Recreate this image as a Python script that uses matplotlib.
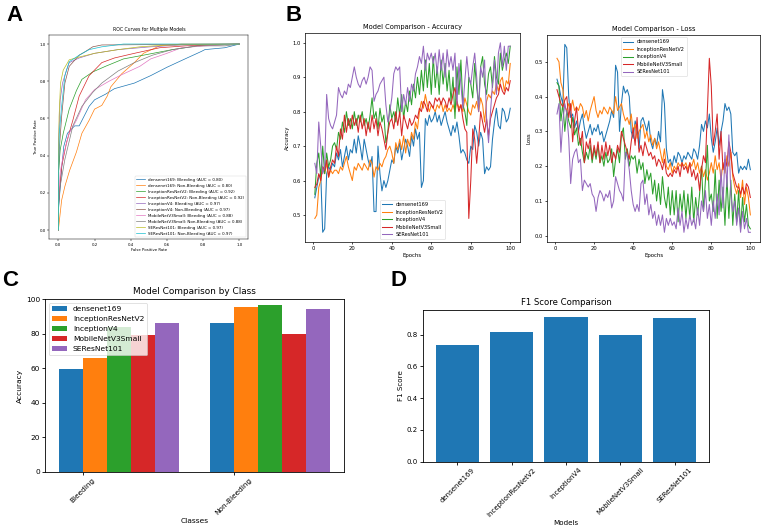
# Model comparison figure: ROC (A), training curves (B), per-class accuracy (C), F1 (D)
import matplotlib
matplotlib.use('Agg')
import matplotlib.pyplot as plt
import numpy as np

models = ['densenet169', 'InceptionResNetV2', 'InceptionV4', 'MobileNetV3Small', 'SEResNet101']
classes = ['Bleeding', 'Non-Bleeding']

# ---- A: ROC curves ----
roc_labels = ['densenet169: Bleeding (AUC = 0.80)', 'densenet169: Non-Bleeding (AUC = 0.80)',
              'InceptionResNetV2: Bleeding (AUC = 0.92)', 'InceptionResNetV2: Non-Bleeding (AUC = 0.92)',
              'InceptionV4: Bleeding (AUC = 0.97)', 'InceptionV4: Non-Bleeding (AUC = 0.97)',
              'MobileNetV3Small: Bleeding (AUC = 0.88)', 'MobileNetV3Small: Non-Bleeding (AUC = 0.88)',
              'SEResNet101: Bleeding (AUC = 0.97)', 'SEResNet101: Non-Bleeding (AUC = 0.97)']
roc_fpr = [
    [0, 0, 0.02, 0.03, 0.05, 0.09, 0.115, 0.17, 0.2, 0.26, 0.31, 0.42, 0.51, 0.6, 0.7, 0.79, 0.81, 0.92, 1.0],
    [0, 0, 0.018, 0.036, 0.062, 0.1, 0.13, 0.17, 0.2, 0.24, 0.27, 0.29, 0.35, 0.42, 0.47, 0.56, 0.68, 1.0],
    [0, 0, 0.01, 0.027, 0.06, 0.1, 0.13, 0.19, 0.26, 0.36, 0.47, 0.63, 0.77, 1.0],
    [0, 0, 0.005, 0.018, 0.045, 0.08, 0.115, 0.17, 0.24, 0.31, 0.42, 0.56, 0.7, 1.0],
    [0, 0, 0.01, 0.023, 0.045, 0.06, 0.115, 0.2, 0.33, 0.51, 0.68, 1.0],
    [0, 0, 0.005, 0.018, 0.036, 0.06, 0.115, 0.15, 0.19, 0.24, 1.0],
    [0, 0, 0.01, 0.027, 0.06, 0.1, 0.15, 0.2, 0.28, 0.35, 0.45, 0.51, 0.6, 0.68, 0.81, 1.0],
    [0, 0, 0.01, 0.036, 0.08, 0.13, 0.19, 0.24, 0.33, 0.42, 0.52, 0.63, 0.77, 0.92, 1.0],
    [0, 0, 0.004, 0.012, 0.027, 0.06, 0.115, 0.2, 0.33, 0.45, 0.6, 1.0],
    [0, 0, 0.005, 0.018, 0.036, 0.06, 0.115, 0.17, 0.24, 0.36, 1.0],
]
roc_tpr = [
    [0, 0.1, 0.35, 0.45, 0.52, 0.56, 0.56, 0.665, 0.70, 0.73, 0.76, 0.79, 0.83, 0.875, 0.92, 0.96, 0.97, 0.98, 1.0],
    [0, 0.0, 0.16, 0.235, 0.32, 0.42, 0.52, 0.59, 0.65, 0.67, 0.72, 0.77, 0.84, 0.90, 0.95, 0.99, 1.0, 1.0],
    [0, 0.30, 0.43, 0.52, 0.65, 0.75, 0.81, 0.85, 0.88, 0.92, 0.94, 0.97, 0.99, 1.0],
    [0, 0.1, 0.2, 0.34, 0.47, 0.59, 0.72, 0.83, 0.90, 0.925, 0.95, 0.98, 0.99, 1.0],
    [0, 0.45, 0.70, 0.79, 0.86, 0.90, 0.925, 0.95, 0.97, 0.985, 0.995, 1.0],
    [0, 0.25, 0.43, 0.61, 0.79, 0.88, 0.94, 0.96, 0.985, 0.995, 1.0],
    [0, 0.15, 0.31, 0.40, 0.52, 0.59, 0.70, 0.755, 0.80, 0.835, 0.88, 0.92, 0.95, 0.98, 0.99, 1.0],
    [0, 0.12, 0.235, 0.38, 0.56, 0.665, 0.74, 0.79, 0.855, 0.90, 0.94, 0.97, 0.99, 0.99, 1.0],
    [0, 0.3, 0.61, 0.79, 0.86, 0.915, 0.93, 0.95, 0.97, 0.985, 0.995, 1.0],
    [0, 0.2, 0.52, 0.665, 0.83, 0.905, 0.94, 0.97, 0.985, 1.0, 1.0],
]

# ---- B: accuracy / loss per epoch ----
epochs = np.arange(1, 101)
acc_densenet = [0.55, 0.58, 0.61, 0.62, 0.45, 0.46, 0.62, 0.64, 0.63, 0.65,
                0.64, 0.68, 0.66, 0.69, 0.64, 0.67, 0.70, 0.66, 0.69, 0.68,
                0.72, 0.68, 0.73, 0.70, 0.66, 0.72, 0.69, 0.66, 0.64, 0.67,
                0.51, 0.51, 0.70, 0.62, 0.57, 0.60, 0.58, 0.60, 0.63, 0.66,
                0.65, 0.70, 0.68, 0.71, 0.66, 0.69, 0.72, 0.70, 0.67, 0.73,
                0.70, 0.75, 0.72, 0.74, 0.58, 0.60, 0.78, 0.76, 0.79, 0.77,
                0.78, 0.80, 0.77, 0.79, 0.76, 0.78, 0.80, 0.77, 0.75, 0.73,
                0.76, 0.74, 0.77, 0.73, 0.68, 0.69, 0.68, 0.66, 0.65, 0.70,
                0.69, 0.76, 0.74, 0.70, 0.74, 0.72, 0.62, 0.64, 0.63, 0.64,
                0.72, 0.77, 0.81, 0.76, 0.75, 0.81, 0.80, 0.77, 0.78, 0.81]
acc_irv2 = [0.49, 0.50, 0.58, 0.60, 0.64, 0.62, 0.65, 0.61, 0.63, 0.62,
            0.63, 0.63, 0.62, 0.64, 0.63, 0.65, 0.67, 0.64, 0.62, 0.60,
            0.64, 0.63, 0.65, 0.64, 0.63, 0.65, 0.64, 0.63, 0.66, 0.65,
            0.61, 0.64, 0.63, 0.65, 0.64, 0.66, 0.67, 0.69, 0.70, 0.68,
            0.65, 0.71, 0.69, 0.72, 0.69, 0.73, 0.68, 0.72, 0.70, 0.74,
            0.72, 0.77, 0.75, 0.80, 0.83, 0.81, 0.85, 0.82, 0.80, 0.82,
            0.81, 0.80, 0.82, 0.81, 0.83, 0.80, 0.82, 0.80, 0.81, 0.80,
            0.82, 0.80, 0.83, 0.81, 0.82, 0.80, 0.84, 0.82, 0.80, 0.79,
            0.82, 0.81, 0.83, 0.80, 0.84, 0.82, 0.77, 0.83, 0.85, 0.84,
            0.86, 0.85, 0.88, 0.86, 0.89, 0.90, 0.86, 0.89, 0.88, 0.94]
acc_iv4 = [0.56, 0.65, 0.68, 0.61, 0.70, 0.62, 0.68, 0.64, 0.66, 0.70,
           0.71, 0.69, 0.74, 0.72, 0.77, 0.74, 0.80, 0.76, 0.78, 0.75,
           0.80, 0.76, 0.79, 0.77, 0.80, 0.76, 0.78, 0.75, 0.79, 0.84,
           0.78, 0.80, 0.75, 0.81, 0.77, 0.79, 0.71, 0.74, 0.82, 0.78,
           0.80, 0.77, 0.84, 0.79, 0.85, 0.78, 0.83, 0.80, 0.86, 0.82,
           0.88, 0.84, 0.90, 0.85, 0.92, 0.86, 0.95, 0.87, 0.94, 0.85,
           0.96, 0.87, 0.93, 0.85, 0.95, 0.88, 0.94, 0.86, 0.92, 0.83,
           0.90, 0.78, 0.93, 0.85, 0.95, 0.82, 0.80, 0.76, 0.90, 0.88,
           0.84, 0.94, 0.87, 0.82, 0.93, 0.96, 0.88, 0.85, 0.91, 0.93,
           0.87, 0.96, 0.90, 0.88, 0.97, 0.92, 0.95, 0.97, 0.94, 0.99]
acc_mobilenet = [0.58, 0.59, 0.62, 0.60, 0.64, 0.63, 0.66, 0.61, 0.64, 0.66,
                 0.65, 0.70, 0.67, 0.75, 0.72, 0.79, 0.74, 0.78, 0.75, 0.79,
                 0.76, 0.78, 0.74, 0.79, 0.75, 0.78, 0.73, 0.77, 0.74, 0.79,
                 0.75, 0.78, 0.73, 0.77, 0.75, 0.72, 0.69, 0.74, 0.77, 0.78,
                 0.75, 0.80, 0.76, 0.80, 0.73, 0.79, 0.77, 0.75, 0.78, 0.76,
                 0.77, 0.79, 0.78, 0.81, 0.80, 0.83, 0.82, 0.80, 0.83, 0.82,
                 0.81, 0.84, 0.83, 0.84, 0.82, 0.84, 0.83, 0.81, 0.84, 0.82,
                 0.85, 0.87, 0.83, 0.80, 0.82, 0.78, 0.75, 0.74, 0.49, 0.60,
                 0.75, 0.72, 0.65, 0.72, 0.80, 0.77, 0.74, 0.78, 0.73, 0.78,
                 0.80, 0.82, 0.84, 0.85, 0.88, 0.86, 0.85, 0.87, 0.86, 0.89]
acc_seresnet = [0.65, 0.62, 0.77, 0.70, 0.62, 0.64, 0.85, 0.78, 0.76, 0.75,
                0.77, 0.79, 0.87, 0.85, 0.84, 0.86, 0.85, 0.88, 0.87, 0.90,
                0.93, 0.90, 0.88, 0.87, 0.89, 0.90, 0.88, 0.90, 0.93, 0.92,
                0.83, 0.85, 0.86, 0.88, 0.89, 0.90, 0.82, 0.77, 0.80, 0.84,
                0.91, 0.93, 0.92, 0.93, 0.80, 0.85, 0.82, 0.87, 0.83, 0.88,
                0.86, 0.91, 0.93, 0.96, 0.94, 0.99, 0.92, 0.97, 0.95, 0.97,
                0.94, 0.97, 0.91, 0.98, 0.92, 0.97, 0.90, 0.98, 0.93, 0.96,
                0.92, 0.97, 0.82, 0.94, 0.88, 0.81, 0.89, 0.96, 0.90, 0.88,
                0.93, 0.97, 0.90, 0.80, 0.93, 0.90, 0.95, 0.78, 0.71, 0.80,
                0.88, 0.95, 0.85, 0.97, 1.00, 0.93, 0.99, 0.92, 0.99, 0.99]

loss_densenet = [0.45, 0.43, 0.40, 0.38, 0.55, 0.54, 0.40, 0.34, 0.35, 0.31,
                 0.33, 0.30, 0.33, 0.35, 0.31, 0.28, 0.30, 0.32, 0.29, 0.31,
                 0.30, 0.32, 0.29, 0.30, 0.27, 0.29, 0.31, 0.33, 0.36, 0.34,
                 0.49, 0.47, 0.30, 0.38, 0.43, 0.41, 0.42, 0.40, 0.30, 0.28,
                 0.33, 0.31, 0.25, 0.33, 0.34, 0.32, 0.30, 0.33, 0.27, 0.25,
                 0.28, 0.26, 0.30, 0.27, 0.42, 0.38, 0.25, 0.21, 0.22, 0.20,
                 0.23, 0.21, 0.24, 0.23, 0.21, 0.23, 0.22, 0.24, 0.23, 0.22,
                 0.25, 0.24, 0.22, 0.26, 0.32, 0.30, 0.33, 0.31, 0.35, 0.28,
                 0.24, 0.27, 0.31, 0.26, 0.30, 0.33, 0.38, 0.36, 0.37, 0.35,
                 0.24, 0.23, 0.24, 0.18, 0.20, 0.19, 0.20, 0.19, 0.22, 0.19]
loss_irv2 = [0.51, 0.50, 0.44, 0.42, 0.37, 0.36, 0.38, 0.36, 0.39, 0.36,
             0.37, 0.36, 0.38, 0.37, 0.34, 0.36, 0.33, 0.36, 0.38, 0.40,
             0.36, 0.34, 0.36, 0.35, 0.37, 0.36, 0.35, 0.37, 0.36, 0.35,
             0.40, 0.36, 0.37, 0.38, 0.35, 0.33, 0.34, 0.32, 0.35, 0.30,
             0.32, 0.28, 0.30, 0.31, 0.32, 0.28, 0.30, 0.27, 0.29, 0.26,
             0.28, 0.25, 0.27, 0.24, 0.21, 0.25, 0.20, 0.19, 0.21, 0.18,
             0.20, 0.19, 0.21, 0.20, 0.21, 0.20, 0.21, 0.19, 0.21, 0.20,
             0.22, 0.19, 0.21, 0.18, 0.20, 0.17, 0.19, 0.16, 0.18, 0.21,
             0.18, 0.23, 0.19, 0.21, 0.16, 0.21, 0.18, 0.23, 0.20, 0.24,
             0.17, 0.14, 0.12, 0.15, 0.11, 0.16, 0.09, 0.14, 0.11, 0.06]
loss_iv4 = [0.44, 0.43, 0.33, 0.38, 0.30, 0.36, 0.33, 0.31, 0.34, 0.29,
            0.31, 0.26, 0.28, 0.24, 0.21, 0.24, 0.22, 0.26, 0.21, 0.25,
            0.22, 0.26, 0.21, 0.23, 0.20, 0.24, 0.21, 0.22, 0.25, 0.17,
            0.22, 0.25, 0.21, 0.29, 0.31, 0.22, 0.25, 0.20, 0.23, 0.22,
            0.23, 0.18, 0.22, 0.19, 0.21, 0.15, 0.19, 0.16, 0.18, 0.12,
            0.16, 0.10, 0.15, 0.09, 0.17, 0.11, 0.08, 0.14, 0.06, 0.13,
            0.06, 0.13, 0.04, 0.12, 0.07, 0.13, 0.05, 0.12, 0.05, 0.14,
            0.04, 0.11, 0.06, 0.12, 0.20, 0.07, 0.16, 0.26, 0.10, 0.12,
            0.07, 0.19, 0.05, 0.16, 0.07, 0.14, 0.03, 0.17, 0.05, 0.16,
            0.03, 0.12, 0.04, 0.13, 0.02, 0.11, 0.04, 0.09, 0.03, 0.02]
loss_mobilenet = [0.42, 0.40, 0.38, 0.37, 0.39, 0.40, 0.34, 0.38, 0.27, 0.33,
                  0.37, 0.30, 0.26, 0.30, 0.21, 0.27, 0.25, 0.28, 0.22, 0.26,
                  0.23, 0.27, 0.21, 0.26, 0.22, 0.27, 0.23, 0.26, 0.21, 0.24,
                  0.22, 0.26, 0.24, 0.30, 0.28, 0.26, 0.24, 0.22, 0.27, 0.31,
                  0.26, 0.34, 0.24, 0.26, 0.23, 0.27, 0.25, 0.23, 0.24, 0.22,
                  0.23, 0.20, 0.22, 0.21, 0.19, 0.22, 0.18, 0.17, 0.18, 0.17,
                  0.19, 0.18, 0.20, 0.17, 0.21, 0.19, 0.20, 0.18, 0.21, 0.17,
                  0.19, 0.16, 0.18, 0.13, 0.19, 0.23, 0.21, 0.36, 0.51, 0.43,
                  0.26, 0.30, 0.35, 0.22, 0.30, 0.19, 0.22, 0.20, 0.27, 0.24,
                  0.18, 0.16, 0.14, 0.14, 0.12, 0.14, 0.12, 0.15, 0.14, 0.11]
loss_seresnet = [0.35, 0.38, 0.24, 0.33, 0.38, 0.35, 0.28, 0.15, 0.22, 0.24,
                 0.25, 0.21, 0.22, 0.13, 0.16, 0.15, 0.14, 0.15, 0.12, 0.11,
                 0.07, 0.11, 0.13, 0.12, 0.10, 0.12, 0.11, 0.13, 0.08, 0.10,
                 0.17, 0.15, 0.13, 0.12, 0.10, 0.24, 0.23, 0.19, 0.13, 0.09,
                 0.07, 0.09, 0.07, 0.15, 0.16, 0.09, 0.12, 0.06, 0.09, 0.05,
                 0.07, 0.03, 0.06, 0.03, 0.06, 0.01, 0.05, 0.03, 0.05, 0.03,
                 0.04, 0.02, 0.08, 0.03, 0.07, 0.01, 0.05, 0.02, 0.06, 0.03,
                 0.05, 0.02, 0.08, 0.03, 0.10, 0.07, 0.13, 0.05, 0.09, 0.03,
                 0.10, 0.05, 0.12, 0.06, 0.19, 0.08, 0.24, 0.14, 0.29, 0.12,
                 0.07, 0.10, 0.03, 0.08, 0.01, 0.07, 0.02, 0.05, 0.01, 0.01]

# ---- C: accuracy by class (%) ----
class_acc_densenet = [59.6, 86.4]
class_acc_irv2 = [66.0, 95.7]
class_acc_iv4 = [83.7, 96.5]
class_acc_mobilenet = [79.3, 80.1]
class_acc_seresnet = [86.1, 94.2]

# ---- D: F1 score ----
f1_scores = [0.737, 0.817, 0.909, 0.798, 0.905]

acc_series = [acc_densenet, acc_irv2, acc_iv4, acc_mobilenet, acc_seresnet]
loss_series = [loss_densenet, loss_irv2, loss_iv4, loss_mobilenet, loss_seresnet]
class_series = [class_acc_densenet, class_acc_irv2, class_acc_iv4, class_acc_mobilenet, class_acc_seresnet]


def style_axes(ax, fs, lw, tl):
    for s in ax.spines.values():
        s.set_linewidth(lw)
    ax.tick_params(labelsize=fs, width=lw, length=tl, pad=1.5)


fig = plt.figure(figsize=(7.67, 5.31), dpi=100)

# A
axA = fig.add_axes([0.0643, 0.5493, 0.2595, 0.3853])
for i in range(len(roc_labels)):
    axA.plot(roc_fpr[i], roc_tpr[i], lw=0.5, label=roc_labels[i])
axA.set_title('ROC Curves for Multiple Models', fontsize=3.3, pad=3)
axA.set_xlabel('False Positive Rate', fontsize=2.8, labelpad=1)
axA.set_ylabel('True Positive Rate', fontsize=2.8, labelpad=1)
axA.legend(loc='lower right', fontsize=2.9, handlelength=2.2, borderpad=0.4, labelspacing=0.5,
           frameon=True, fancybox=True)
style_axes(axA, 2.8, 0.35, 1.2)
axA.get_legend().get_frame().set_linewidth(0.3)

# B accuracy
axB1 = fig.add_axes([0.3977, 0.5448, 0.2803, 0.3925])
for name, vals in zip(models, acc_series):
    axB1.plot(epochs, vals, lw=0.75, label=name)
axB1.set_title('Model Comparison - Accuracy', fontsize=4.8, pad=3)
axB1.set_xlabel('Epochs', fontsize=3.9, labelpad=1.5)
axB1.set_ylabel('Accuracy', fontsize=3.9, labelpad=2)
axB1.legend(loc='lower center', fontsize=3.6, handlelength=2.0, borderpad=0.4)
axB1.get_legend().get_frame().set_linewidth(0.4)
style_axes(axB1, 3.8, 0.5, 1.6)

# B loss
axB2 = fig.add_axes([0.7136, 0.5448, 0.2773, 0.3893])
for name, vals in zip(models, loss_series):
    axB2.plot(epochs, vals, lw=0.75, label=name)
axB2.set_title('Model Comparison - Loss', fontsize=4.8, pad=3)
axB2.set_xlabel('Epochs', fontsize=3.9, labelpad=1.5)
axB2.set_ylabel('Loss', fontsize=3.9, labelpad=2)
axB2.legend(loc='upper center', fontsize=3.6, handlelength=2.0, borderpad=0.4)
axB2.get_legend().get_frame().set_linewidth(0.4)
style_axes(axB2, 3.8, 0.5, 1.6)

# C
axC = fig.add_axes([0.0587, 0.1117, 0.3898, 0.3247])
x = np.arange(len(classes))
width = 0.16
for i, (name, vals) in enumerate(zip(models, class_series)):
    axC.bar(x + i * width, vals, width, label=name)
axC.set_ylim(0, 100)
axC.set_xticks(x + width / 2)
axC.set_xticklabels(classes, rotation=45)
axC.set_title('Model Comparison by Class', fontsize=6.4, pad=3.5)
axC.set_xlabel('Classes', fontsize=5.4, labelpad=2)
axC.set_ylabel('Accuracy', fontsize=5.4, labelpad=2)
axC.legend(loc='upper left', fontsize=5.4, borderpad=0.4)
axC.get_legend().get_frame().set_linewidth(0.5)
style_axes(axC, 5.3, 0.6, 2.0)

# D
axD = fig.add_axes([0.5511, 0.1305, 0.3737, 0.2857])
axD.bar(models, f1_scores)
axD.set_xticks(range(len(models)))
axD.set_xticklabels(models, rotation=45)
axD.set_title('F1 Score Comparison', fontsize=6.1, pad=3.5)
axD.set_xlabel('Models', fontsize=5.1, labelpad=2)
axD.set_ylabel('F1 Score', fontsize=5.1, labelpad=2)
style_axes(axD, 5.0, 0.6, 2.0)

# panel letters
for letter, xx, yy in [('A', 0.008, 0.99), ('B', 0.372, 0.99), ('C', 0.003, 0.492), ('D', 0.509, 0.492)]:
    fig.text(xx, yy, letter, fontsize=16, fontweight='bold', family='Liberation Sans', va='top', ha='left')

fig.savefig('out.png', dpi=100)
